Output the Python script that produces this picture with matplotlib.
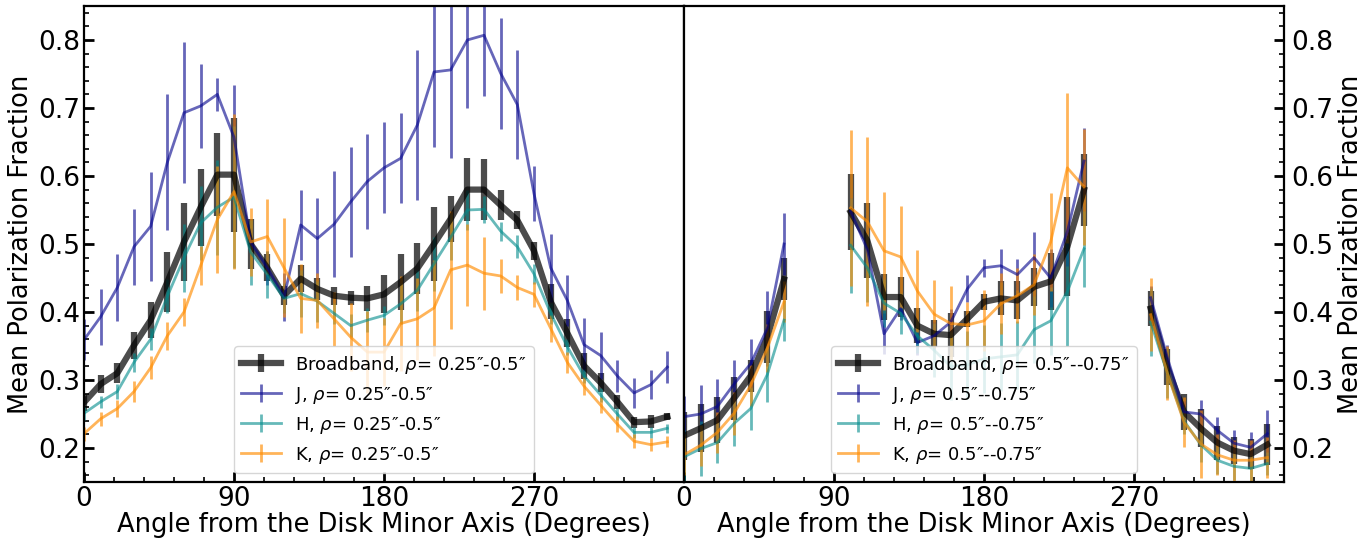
import numpy as np
import matplotlib
matplotlib.use("Agg")
import matplotlib.pyplot as plt
from matplotlib.ticker import MultipleLocator, AutoMinorLocator, FormatStrFormatter

# ---------------- data ----------------
angles = [0, 10, 20, 30, 40, 50, 60, 70, 80, 90, 100, 110, 120, 130, 140, 150, 160, 170,
          180, 190, 200, 210, 220, 230, 240, 250, 260, 270, 280, 290, 300, 310, 320, 330, 340, 350]

# Left panel: rho = 0.25"-0.5"
bb_in = [0.267, 0.294, 0.310, 0.351, 0.388, 0.444, 0.503, 0.554, 0.602, 0.602, 0.500, 0.465,
         0.424, 0.449, 0.434, 0.424, 0.421, 0.420, 0.426, 0.444, 0.464, 0.500, 0.537, 0.580,
         0.580, 0.557, 0.535, 0.490, 0.415, 0.369, 0.321, 0.296, 0.268, 0.238, 0.239, 0.246]
bb_in_err = [0.012, 0.013, 0.015, 0.020, 0.026, 0.044, 0.058, 0.057, 0.061, 0.084, 0.037, 0.020,
             0.014, 0.020, 0.016, 0.013, 0.010, 0.018, 0.028, 0.041, 0.037, 0.055, 0.034, 0.046,
             0.045, 0.022, 0.013, 0.013, 0.026, 0.020, 0.019, 0.014, 0.010, 0.008, 0.009, 0.005]
j_in = [0.359, 0.393, 0.436, 0.496, 0.526, 0.620, 0.693, 0.703, 0.720, 0.657, 0.503, 0.465,
        0.422, 0.528, 0.508, 0.529, 0.562, 0.592, 0.612, 0.626, 0.675, 0.753, 0.756, 0.800,
        0.807, 0.751, 0.705, 0.574, 0.465, 0.417, 0.352, 0.336, 0.306, 0.281, 0.293, 0.319]
j_in_err = [0.030, 0.041, 0.049, 0.056, 0.080, 0.100, 0.104, 0.062, 0.024, 0.077, 0.020, 0.025,
            0.035, 0.052, 0.060, 0.078, 0.081, 0.070, 0.067, 0.066, 0.110, 0.111, 0.130, 0.100,
            0.090, 0.082, 0.080, 0.040, 0.050, 0.037, 0.039, 0.035, 0.023, 0.022, 0.021, 0.023]
h_in = [0.251, 0.268, 0.283, 0.326, 0.360, 0.423, 0.480, 0.531, 0.554, 0.569, 0.488, 0.455,
        0.420, 0.427, 0.416, 0.398, 0.380, 0.388, 0.395, 0.412, 0.432, 0.471, 0.510, 0.550,
        0.551, 0.519, 0.496, 0.456, 0.398, 0.349, 0.306, 0.278, 0.250, 0.223, 0.223, 0.229]
h_in_err = [0.010, 0.009, 0.011, 0.014, 0.016, 0.025, 0.050, 0.055, 0.070, 0.105, 0.048, 0.035,
            0.022, 0.035, 0.030, 0.015, 0.017, 0.018, 0.014, 0.030, 0.030, 0.040, 0.034, 0.030,
            0.020, 0.014, 0.017, 0.015, 0.015, 0.012, 0.010, 0.010, 0.009, 0.008, 0.008, 0.007]
k_in = [0.221, 0.243, 0.258, 0.283, 0.318, 0.365, 0.400, 0.468, 0.536, 0.577, 0.503, 0.511,
        0.465, 0.420, 0.417, 0.390, 0.363, 0.341, 0.341, 0.383, 0.390, 0.406, 0.462, 0.469,
        0.457, 0.453, 0.436, 0.426, 0.376, 0.326, 0.291, 0.263, 0.235, 0.210, 0.205, 0.209]
k_in_err = [0.010, 0.010, 0.013, 0.015, 0.017, 0.021, 0.020, 0.029, 0.078, 0.114, 0.050, 0.055,
            0.073, 0.051, 0.040, 0.040, 0.050, 0.060, 0.050, 0.070, 0.060, 0.070, 0.087, 0.060,
            0.054, 0.025, 0.018, 0.018, 0.020, 0.015, 0.013, 0.012, 0.012, 0.010, 0.010, 0.008]

# Right panel: rho = 0.5"--0.75" (None = no measurement)
N = None
bb_out = [0.218, 0.229, 0.241, 0.273, 0.306, 0.363, 0.448, N, N, N, 0.547, 0.505,
          0.422, 0.422, 0.380, 0.368, 0.366, 0.390, 0.415, 0.420, 0.417, 0.437, 0.445, 0.496,
          0.580, N, N, N, 0.405, 0.319, 0.253, 0.229, 0.208, 0.196, 0.191, 0.205]
bb_out_err = [0.035, 0.035, 0.034, 0.032, 0.024, 0.038, 0.031, N, N, N, 0.056, 0.055,
              0.034, 0.030, 0.026, 0.020, 0.032, 0.012, 0.012, 0.025, 0.028, 0.028, 0.042, 0.073,
              0.053, N, N, N, 0.026, 0.027, 0.027, 0.028, 0.025, 0.020, 0.022, 0.030]
j_out = [0.246, 0.250, 0.261, 0.294, 0.324, 0.376, 0.500, N, N, N, 0.548, 0.492,
         0.368, 0.405, 0.355, 0.365, 0.385, 0.434, 0.465, 0.468, 0.455, 0.480, 0.450, 0.518,
         0.622, N, N, N, 0.421, 0.333, 0.253, 0.250, 0.226, 0.207, 0.201, 0.221]
j_out_err = [0.030, 0.042, 0.040, 0.036, 0.036, 0.055, 0.045, N, N, N, 0.020, 0.020,
             0.030, 0.017, 0.018, 0.020, 0.020, 0.020, 0.013, 0.024, 0.023, 0.038, 0.042, 0.050,
             0.048, N, N, N, 0.017, 0.019, 0.016, 0.021, 0.020, 0.019, 0.022, 0.035]
h_out = [0.187, 0.199, 0.208, 0.236, 0.258, 0.308, 0.388, N, N, N, 0.498, 0.465,
         0.413, 0.398, 0.365, 0.344, 0.320, 0.322, 0.331, 0.334, 0.337, 0.374, 0.387, 0.430,
         0.493, N, N, N, 0.385, 0.310, 0.240, 0.205, 0.182, 0.173, 0.170, 0.177]
h_out_err = [0.040, 0.040, 0.030, 0.033, 0.031, 0.040, 0.030, N, N, N, 0.070, 0.050,
             0.035, 0.030, 0.025, 0.040, 0.050, 0.050, 0.050, 0.050, 0.050, 0.049, 0.050, 0.080,
             0.056, N, N, N, 0.050, 0.037, 0.020, 0.025, 0.020, 0.020, 0.020, 0.017]
k_out = [0.190, 0.204, 0.223, 0.251, 0.292, 0.347, 0.415, N, N, N, 0.553, 0.533,
         0.490, 0.481, 0.431, 0.397, 0.383, 0.381, 0.387, 0.412, 0.424, 0.440, 0.503, 0.612,
         0.584, N, N, N, 0.396, 0.310, 0.238, 0.206, 0.190, 0.182, 0.182, 0.186]
k_out_err = [0.030, 0.030, 0.030, 0.032, 0.030, 0.035, 0.030, N, N, N, 0.115, 0.124,
             0.087, 0.075, 0.060, 0.050, 0.055, 0.033, 0.045, 0.045, 0.040, 0.045, 0.072, 0.110,
             0.085, N, N, N, 0.054, 0.040, 0.037, 0.050, 0.030, 0.030, 0.030, 0.030]

labels_in = ["Broadband, $\\rho$= 0.25\u2033-0.5\u2033", "J, $\\rho$= 0.25\u2033-0.5\u2033",
             "H, $\\rho$= 0.25\u2033-0.5\u2033", "K, $\\rho$= 0.25\u2033-0.5\u2033"]
labels_out = ["Broadband, $\\rho$= 0.5\u2033--0.75\u2033", "J, $\\rho$= 0.5\u2033--0.75\u2033",
              "H, $\\rho$= 0.5\u2033--0.75\u2033", "K, $\\rho$= 0.5\u2033--0.75\u2033"]
xticks = [0, 90, 180, 270]


def arr(v):
    return np.array([np.nan if x is None else x for x in v], dtype=float)


# ---------------- figure ----------------
W, H = 1372, 540
fig = plt.figure(figsize=(W / 100, H / 100), dpi=100)
bottom = (H - 482) / H
height = 476 / H
ax1 = fig.add_axes([84 / W, bottom, 600 / W, height])
ax2 = fig.add_axes([684 / W, bottom, 600 / W, height])

styles = [
    dict(color="black", alpha=0.7, lw=4.5, elinewidth=4.5),
    dict(color="darkblue", alpha=0.6, lw=2, elinewidth=2),
    dict(color="darkcyan", alpha=0.6, lw=2, elinewidth=2),
    dict(color="darkorange", alpha=0.65, lw=2, elinewidth=2),
]

sets = [
    (ax1, [(bb_in, bb_in_err), (j_in, j_in_err), (h_in, h_in_err), (k_in, k_in_err)], labels_in),
    (ax2, [(bb_out, bb_out_err), (j_out, j_out_err), (h_out, h_out_err), (k_out, k_out_err)], labels_out),
]

for ax, series, labels in sets:
    x = np.array(angles, dtype=float)
    for (y, e), lab, st in zip(series, labels, styles):
        ax.errorbar(x, arr(y), yerr=arr(e), label=lab, capsize=0, **st)
    ax.set_xlim(0, 360)
    ax.set_ylim(0.15, 0.85)
    ax.set_xticks(xticks)
    ax.xaxis.set_minor_locator(AutoMinorLocator(5))
    ax.yaxis.set_major_locator(MultipleLocator(0.1))
    ax.yaxis.set_minor_locator(MultipleLocator(0.02))
    ax.yaxis.set_major_formatter(FormatStrFormatter("%.1f"))
    ax.tick_params(which="major", direction="in", length=7, width=2, labelsize=19)
    ax.tick_params(which="minor", direction="in", length=3.5, width=1.2)
    ax.tick_params(axis="x", which="major", pad=3)
    for sp in ax.spines.values():
        sp.set_linewidth(1.6)
    ax.set_xlabel("Angle from the Disk Minor Axis (Degrees)", fontsize=18.5, labelpad=0)
    ax.legend(loc="lower center", fontsize=13, handlelength=2.2)

ax1.tick_params(axis="y", which="both", left=True, right=False)
ax1.tick_params(axis="y", which="major", pad=3)
ax1.set_ylabel("Mean Polarization Fraction", fontsize=18.5, labelpad=3)

ax2.yaxis.tick_right()
ax2.yaxis.set_label_position("right")
ax2.tick_params(axis="y", which="both", left=False, right=True)
ax2.tick_params(axis="y", which="major", pad=5)
ax2.set_ylabel("Mean Polarization Fraction", fontsize=18.5, labelpad=4)

fig.savefig("out.png", dpi=100)
